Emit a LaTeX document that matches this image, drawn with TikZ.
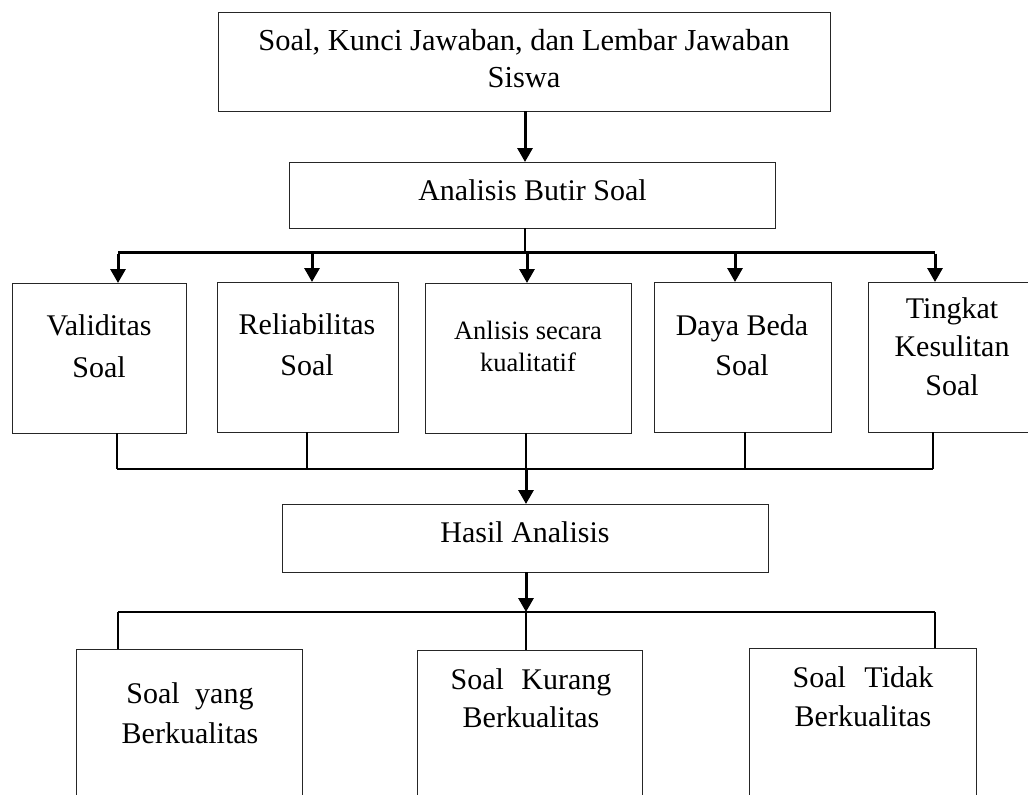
\documentclass[tikz,border=0pt]{standalone}
\usepackage{fontspec}
\setmainfont{Liberation Serif}
\usetikzlibrary{arrows.meta}
\tikzset{
  box/.style={draw=black!85, line width=1pt, rectangle, inner sep=0pt, outer sep=0pt},
  txt/.style={inner sep=0pt, outer sep=0pt, anchor=north, align=center},
  thickarr/.style={line width=3pt, -{Triangle[length=14pt,width=15pt]}},
  thickline/.style={line width=3pt},
  thinline/.style={line width=1.6pt},
}
\begin{document}
\begin{tikzpicture}[x=1pt,y=-1pt]
\useasboundingbox (0,0) rectangle (1028,795);
\clip (0,0) rectangle (1028,795);
\fill[white] (0,0) rectangle (1028,795);
% boxes
\node[box, minimum width=612pt, minimum height=99pt] (top) at (524,61.5) {};
\node[box, minimum width=486pt, minimum height=66pt] (anal) at (532,195) {};
\node[box, minimum width=174pt, minimum height=150pt] (b1) at (99,358) {};
\node[box, minimum width=181pt, minimum height=150pt] (b2) at (307.5,357) {};
\node[box, minimum width=206pt, minimum height=150pt] (b3) at (528,358) {};
\node[box, minimum width=177pt, minimum height=150pt] (b4) at (742.5,357) {};
\node[box, minimum width=168pt, minimum height=150pt] (b5) at (952,357) {};
\node[box, minimum width=486pt, minimum height=68pt] (hasil) at (525,538) {};
\node[box, minimum width=226pt, minimum height=151pt] (c1) at (189,724.5) {};
\node[box, minimum width=225pt, minimum height=150pt] (c2) at (529.5,725) {};
\node[box, minimum width=227pt, minimum height=152pt] (c3) at (862.5,724) {};
% texts
\node[txt, font=\fontsize{30.5}{37}\selectfont] (ttop) at (524,24.1) {\strut Soal, Kunci Jawaban, dan Lembar Jawaban\\\strut Siswa};
\node[txt, font=\fontsize{30}{37}\selectfont] (tanal) at (532.5,174.1) {\strut Analisis Butir Soal};
\node[txt, font=\fontsize{30}{42}\selectfont] (tb1) at (99,305.6) {\strut Validitas\\\strut Soal};
\node[txt, font=\fontsize{30}{41}\selectfont] (tb2) at (307,305.3) {\strut Reliabilitas\\\strut Soal};
\node[txt, font=\fontsize{26.5}{32}\selectfont] (tb3) at (528,316.6) {\strut Anlisis secara\\\strut kualitatif};
\node[txt, font=\fontsize{30}{40}\selectfont] (tb4) at (742,307) {\strut Daya Beda\\\strut Soal};
\node[txt, font=\fontsize{30}{38.5}\selectfont] (tb5) at (952,291.05) {\strut Tingkat\\\strut Kesulitan\\\strut Soal};
\node[txt, font=\fontsize{30}{37}\selectfont] (thasil) at (525,516.1) {\strut Hasil Analisis};
\node[txt, font=\fontsize{30}{40}\selectfont] (tc1) at (190,675) {\strut Soal\hspace{8pt} yang\\\strut Berkualitas};
\node[txt, font=\fontsize{30}{38}\selectfont] (tc2) at (531,662.4) {\strut Soal\hspace{10pt} Kurang\\\strut Berkualitas};
\node[txt, font=\fontsize{30}{39}\selectfont] (tc3) at (863,659.7) {\strut Soal\hspace{11pt} Tidak\\\strut Berkualitas};
% bus coordinates
\coordinate (busA) at (525,252);
\coordinate (a1) at (118,252);
\coordinate (a2) at (312,252);
\coordinate (a3) at (527,252);
\coordinate (a4) at (735,252);
\coordinate (a5) at (935,252);
\coordinate (d1) at (117,469);
\coordinate (d2) at (307,469);
\coordinate (d3) at (526,469);
\coordinate (d4) at (745,469);
\coordinate (d5) at (933,469);
\coordinate (e1) at (118,612);
\coordinate (e2) at (526,612);
\coordinate (e3) at (935,612);
% connectors
\draw[thickarr] (top.south -| busA) -- (anal.north -| busA);
\draw[thinline] (anal.south -| busA) -- (busA);
\draw[thickline] (a1) -- (a5);
\foreach \a/\b in {a1/b1,a2/b2,a3/b3,a4/b4,a5/b5}
  \draw[thickarr] ([yshift=-1.5pt]\a) -- (\a |- \b.north);
\foreach \d/\b in {d1/b1,d2/b2,d3/b3,d4/b4,d5/b5}
  \draw[thinline] (\d |- \b.south) -- (\d);
\draw[thinline] (d1) -- (d5);
\draw[thickarr] (d3) -- (d3 |- hasil.north);
\draw[thickarr] (hasil.south -| e2) -- (e2);
\draw[thinline] (e1) -- (e3);
\foreach \e/\c in {e1/c1,e2/c2,e3/c3}
  \draw[thinline] (\e) -- (\e |- \c.north);
\end{tikzpicture}
\end{document}
